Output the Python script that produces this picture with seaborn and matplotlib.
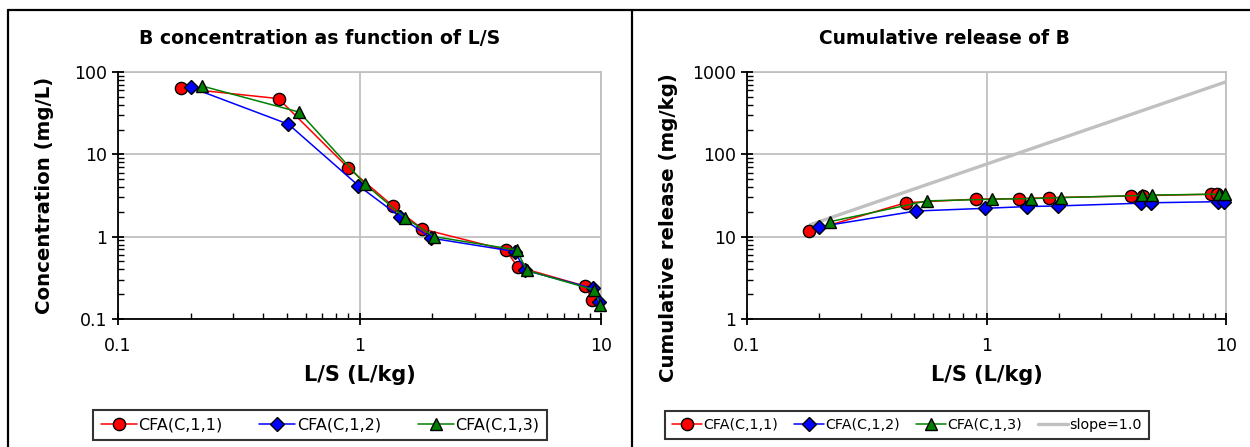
import numpy as np
import pandas as pd
import seaborn as sns
import matplotlib
matplotlib.use("Agg")
import matplotlib.pyplot as plt
from matplotlib.lines import Line2D
from matplotlib.ticker import FixedLocator, LogLocator, NullFormatter, FuncFormatter

# ---------------- data ----------------
series_names = ["CFA(C,1,1)", "CFA(C,1,2)", "CFA(C,1,3)"]

ls_1 = [0.182, 0.462, 0.90, 1.37, 1.82, 4.03, 4.52, 8.62, 9.20]
ls_2 = [0.200, 0.508, 0.99, 1.47, 1.98, 4.40, 4.85, 9.25, 9.80]
ls_3 = [0.222, 0.564, 1.055, 1.54, 2.04, 4.47, 4.93, 9.38, 9.93]

conc_1 = [63.5, 47.5, 6.8, 2.38, 1.24, 0.69, 0.43, 0.25, 0.17]
conc_2 = [65.0, 23.2, 4.17, 1.75, 0.96, 0.66, 0.39, 0.235, 0.16]
conc_3 = [67.8, 32.5, 4.33, 1.70, 1.00, 0.69, 0.39, 0.225, 0.15]

cum_1 = [11.7, 25.9, 28.5, 29.0, 29.8, 31.2, 31.5, 32.7, 33.0]
cum_2 = [13.2, 20.5, 22.1, 23.2, 23.6, 25.5, 25.8, 26.6, 26.7]
cum_3 = [15.2, 27.2, 28.5, 29.0, 29.8, 31.7, 32.0, 32.9, 33.4]

slope_label = "slope=1.0"
slope_x = [0.184, 10.0]
slope_y = [14.0, 760.0]

xticks = [0.1, 1, 10]
yticks_left = [0.1, 1, 10, 100]
yticks_right = [1, 10, 100, 1000]

# ---------------- style ----------------
sns.set_style("white")
plt.rcParams["font.family"] = ["DejaVu Sans"]
plt.rcParams["text.color"] = "black"
plt.rcParams["axes.labelcolor"] = "black"
plt.rcParams["xtick.color"] = "black"
plt.rcParams["ytick.color"] = "black"

colors = ["#FF0000", "#0000FF", "#008000"]
markers = ["o", "D", "^"]
msizes = [8.8, 6.8, 8.8]
grid_c = "#C0C0C0"

fig = plt.figure(figsize=(12.5, 4.47), dpi=100)
W, H = 1250, 447


def axes_px(x0, x1, y0, y1):
    return fig.add_axes([x0 / W, 1 - y1 / H, (x1 - x0) / W, (y1 - y0) / H])


ax1 = axes_px(118, 601, 72, 319)
ax2 = axes_px(747, 1226, 72, 319)


def fmt(v, pos):
    return ("%g" % v)


def style_axes(ax, yticks, title, ylabel, ylab_xy, title_fs, title_x):
    ax.set_xscale("log")
    ax.set_yscale("log")
    ax.set_xlim(xticks[0], xticks[-1])
    ax.set_ylim(yticks[0], yticks[-1])
    ax.xaxis.set_major_locator(FixedLocator(xticks))
    ax.yaxis.set_major_locator(FixedLocator(yticks))
    ax.xaxis.set_minor_locator(LogLocator(base=10, subs=np.arange(2, 10)))
    ax.yaxis.set_minor_locator(LogLocator(base=10, subs=np.arange(2, 10)))
    ax.xaxis.set_major_formatter(FuncFormatter(fmt))
    ax.yaxis.set_major_formatter(FuncFormatter(fmt))
    ax.xaxis.set_minor_formatter(NullFormatter())
    ax.yaxis.set_minor_formatter(NullFormatter())
    ax.grid(True, which="major", color=grid_c, linewidth=1.3)
    ax.set_axisbelow(True)
    for s in ["top", "right"]:
        ax.spines[s].set_visible(True)
        ax.spines[s].set_color(grid_c)
        ax.spines[s].set_linewidth(1.3)
        ax.spines[s].set_zorder(0.5)
    for s in ["left", "bottom"]:
        ax.spines[s].set_color("black")
        ax.spines[s].set_linewidth(1.3)
    ax.tick_params(which="major", direction="inout", length=8, width=1.3,
                   colors="black", labelsize=12.5, bottom=True, left=True,
                   top=False, right=False, pad=4)
    ax.tick_params(which="minor", direction="in", length=4, width=1.0,
                   colors="black", bottom=True, left=True, top=False, right=False)
    ax.tick_params(axis="x", which="major", pad=9)
    t = ax.set_title(title, fontsize=title_fs, fontweight="bold", pad=20, color="black")
    t.set_x(title_x)
    ax.set_xlabel("L/S (L/kg)", fontsize=15, fontweight="bold")
    ax.set_ylabel(ylabel, fontsize=14.2, fontweight="bold")
    ax.xaxis.set_label_coords(0.5, -0.227)
    ax.yaxis.set_label_coords(*ylab_xy)
    ax.xaxis.label.set_verticalalignment("center")
    ax.yaxis.label.set_verticalalignment("center")


xs = [ls_1, ls_2, ls_3]
left_vals = [conc_1, conc_2, conc_3]
right_vals = [cum_1, cum_2, cum_3]

sns.lineplot(x=slope_x, y=slope_y, ax=ax2, color=grid_c, linewidth=2.4,
             label=slope_label, zorder=2)

for ax, vals in [(ax1, left_vals), (ax2, right_vals)]:
    for i in range(3):
        sns.lineplot(x=xs[i], y=vals[i], ax=ax, color=colors[i], marker=markers[i],
                     markersize=msizes[i], markeredgecolor="black", markeredgewidth=1.0,
                     linewidth=1.1, label=series_names[i], zorder=3 + i, clip_on=False)

style_axes(ax1, yticks_left, "B concentration as function of L/S", "Concentration (mg/L)",
           (-0.153, 0.5), 13.6, (320 - 118) / 483)
style_axes(ax2, yticks_right, "Cumulative release of B", "Cumulative release (mg/kg)",
           (-0.163, 0.37), 13.4, (944 - 747) / 479)

# legends
legend_cfg = [
    (ax1, 320, [0, 1, 2], 11.5, 2.25, 2.3),
    (ax2, 907, [1, 2, 3, 0], 10.3, 2.1, 1.1),
]
for ax, cx, order, fs, hl, cs in legend_cfg:
    h, l = ax.get_legend_handles_labels()
    h = [h[k] for k in order]
    l = [l[k] for k in order]
    leg = ax.legend(h, l, loc="center", bbox_to_anchor=(cx / W, 1 - 425 / H),
                    bbox_transform=fig.transFigure, ncol=len(h), frameon=True,
                    fancybox=False, edgecolor="black", fontsize=fs,
                    handlelength=hl, handletextpad=0.1, columnspacing=cs,
                    borderpad=0.5)
    leg.get_frame().set_linewidth(1.5)

# figure frame lines
lw = 1.6
fig.add_artist(Line2D([8 / W, 1], [1 - 10 / H, 1 - 10 / H], color="black", linewidth=lw,
                      transform=fig.transFigure))
fig.add_artist(Line2D([8 / W, 8 / W], [0, 1 - 10 / H], color="black", linewidth=lw,
                      transform=fig.transFigure))
fig.add_artist(Line2D([632 / W, 632 / W], [0, 1 - 10 / H], color="black", linewidth=lw,
                      transform=fig.transFigure))

fig.savefig("out.png", dpi=100)
